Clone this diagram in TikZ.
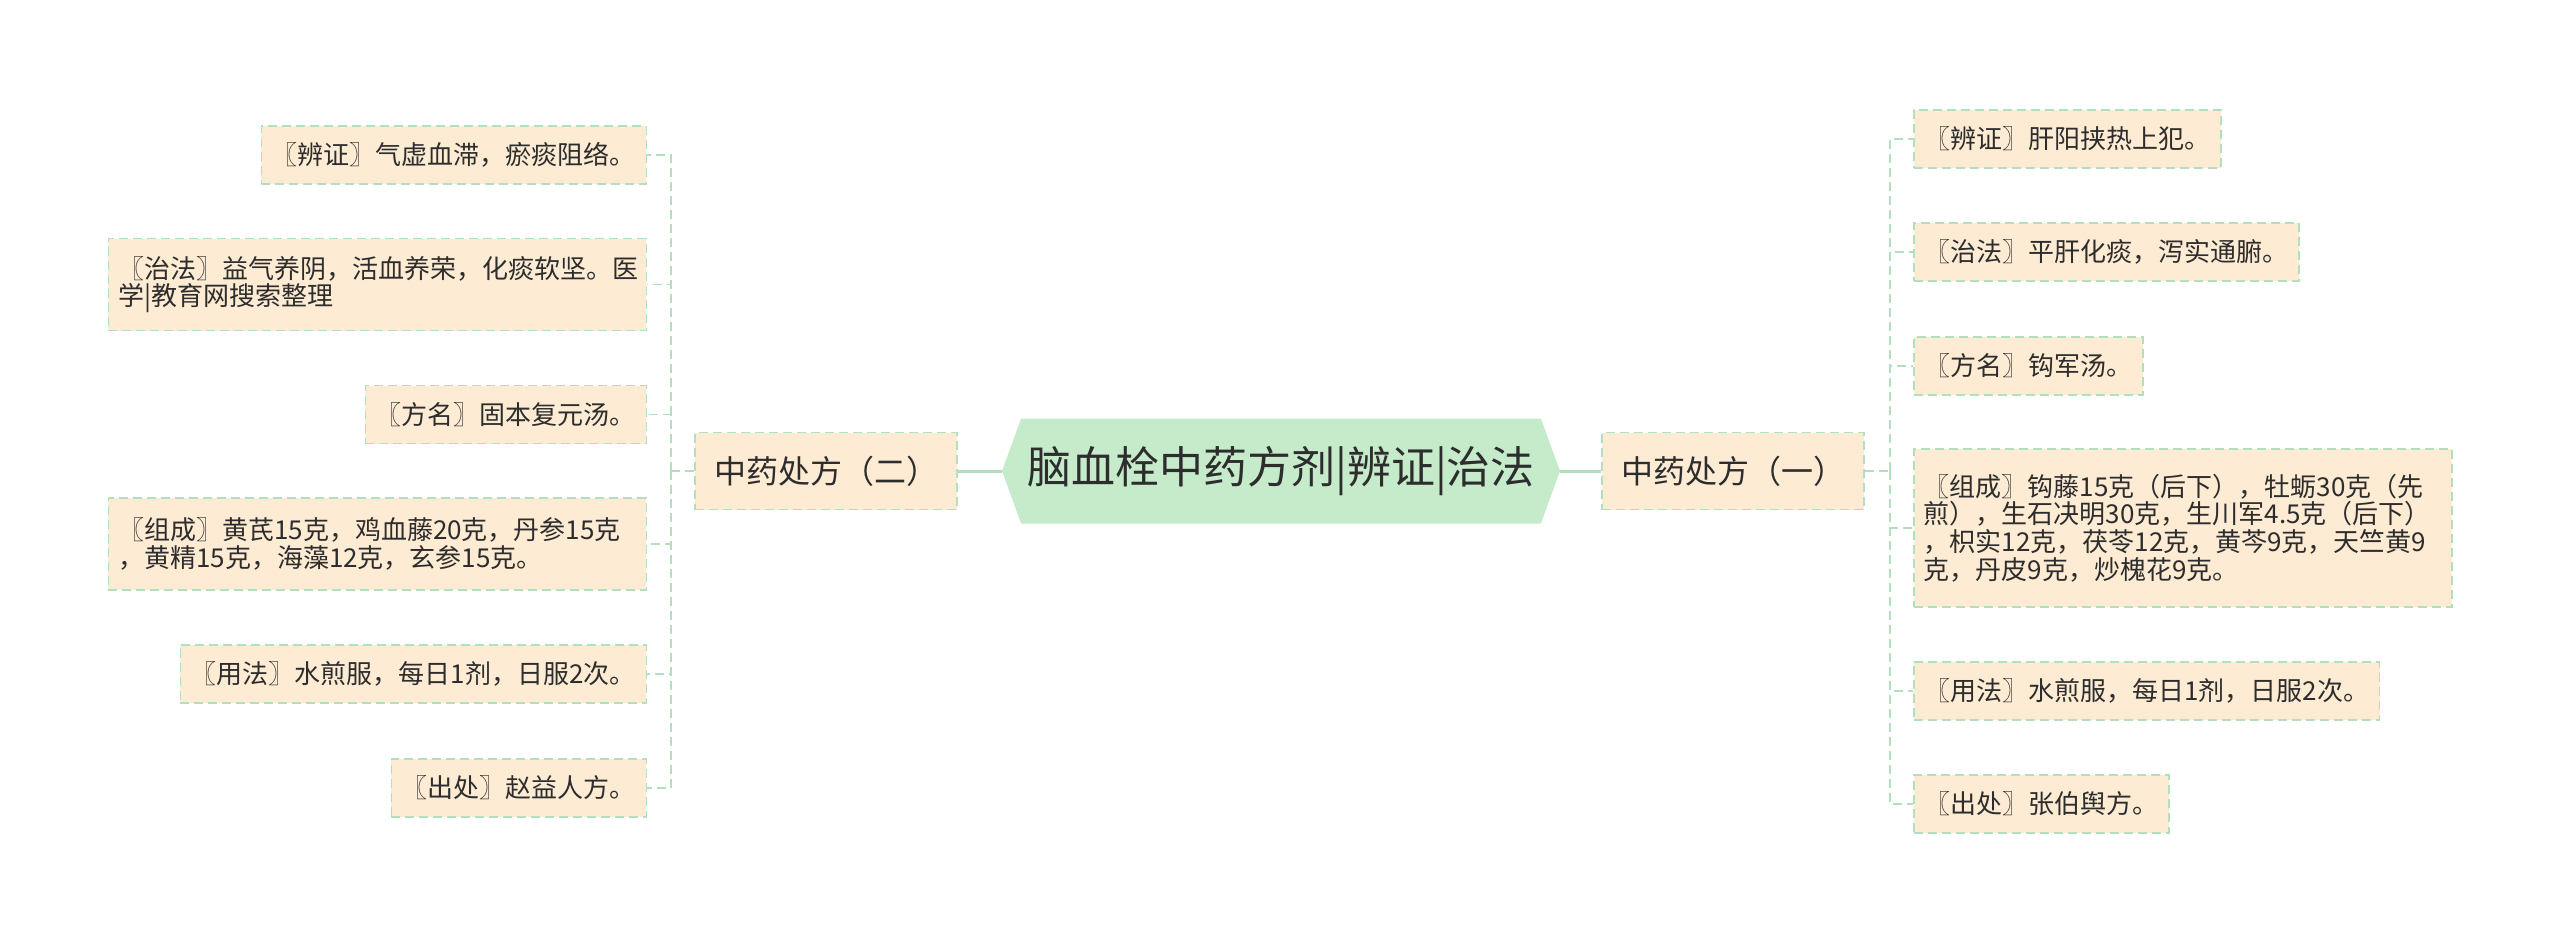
\documentclass[tikz,border=0pt]{standalone}
\usepackage{fontspec}
\setmainfont{Noto Sans CJK SC}
\usepackage{tikz}
\usetikzlibrary{shapes.symbols}
\definecolor{leaffill}{RGB}{253,235,211}
\definecolor{linegreen}{RGB}{178,223,190}
\definecolor{rootfill}{RGB}{197,235,202}
\definecolor{inkgray}{RGB}{45,45,45}

\begin{document}
\begin{tikzpicture}[x=1pt, y=-1pt,
    leaf/.style = {draw=linegreen, line width=1.5pt, dash pattern=on 9pt off 5pt,
      fill=leaffill, text=inkgray, font=\fontsize{26}{27.7}\selectfont,
      inner xsep=10.5pt, inner ysep=0pt, align=left},
    one/.style = {minimum height=58pt},
    two/.style = {minimum height=92pt, text width=518pt, inner xsep=10pt},
    four/.style = {minimum height=158pt, text width=518pt, inner xsep=10pt},
    branch/.style = {leaf, font=\fontsize{32}{38}\selectfont, inner xsep=19pt, minimum height=77pt},
    root/.style = {signal, signal to=east and west, signal pointer angle=140,
      fill=rootfill, text=inkgray, font=\fontsize{44}{50}\selectfont,
      minimum height=105pt, inner xsep=6pt},
    link/.style = {draw=linegreen, line width=1.5pt, dash pattern=on 9pt off 5pt},
    trunk/.style = {draw=linegreen, line width=3pt}]
  \path[fill=white, use as bounding box] (0,0) rectangle (2560,943);
  \node[root] (root) at (1281,471) {脑血栓中药方剂|辨证|治法};
  \node[branch] (left) at (826,471) {中药处方（二）};
  \node[branch] (right) at (1733,471) {中药处方（一）};
  \draw[trunk] (root.west) -- (left.east);
  \draw[trunk] (root.east) -- (right.west);
  \coordinate (sl) at (671,471);
  \coordinate (sr) at (1890,471);
  \draw[link] (left.west) -- (sl);
  \draw[link] (right.east) -- (sr);
  % left side
  \foreach \n/\y/\s/\t in {
      l1/155/one/{〖辨证〗气虚血滞，瘀痰阻络。},
      l2/284.5/two/{〖治法〗益气养阴，活血养荣，化痰软坚。医\\学|教育网搜索整理},
      l3/414.5/one/{〖方名〗固本复元汤。},
      l4/544/two/{〖组成〗黄芪15克，鸡血藤20克，丹参15克\\，黄精15克，海藻12克，玄参15克。},
      l5/674/one/{〖用法〗水煎服，每日1剂，日服2次。},
      l6/788/one/{〖出处〗赵益人方。}} {
    \node[leaf, \s, anchor=east] (\n) at (647,\y) {\t};
    \draw[link] (sl) |- (\n.east);
  }
  % right side
  \foreach \n/\y/\s/\t in {
      r1/139/one/{〖辨证〗肝阳挟热上犯。},
      r2/252/one/{〖治法〗平肝化痰，泻实通腑。},
      r3/366/one/{〖方名〗钩军汤。},
      r4/528/four/{〖组成〗钩藤15克（后下），牡蛎30克（先\\煎），生石决明30克，生川军4.5克（后下）\\，枳实12克，茯苓12克，黄芩9克，天竺黄9\\克，丹皮9克，炒槐花9克。},
      r5/691/one/{〖用法〗水煎服，每日1剂，日服2次。},
      r6/804/one/{〖出处〗张伯舆方。}} {
    \node[leaf, \s, anchor=west] (\n) at (1913,\y) {\t};
    \draw[link] (sr) |- (\n.west);
  }
\end{tikzpicture}
\end{document}
